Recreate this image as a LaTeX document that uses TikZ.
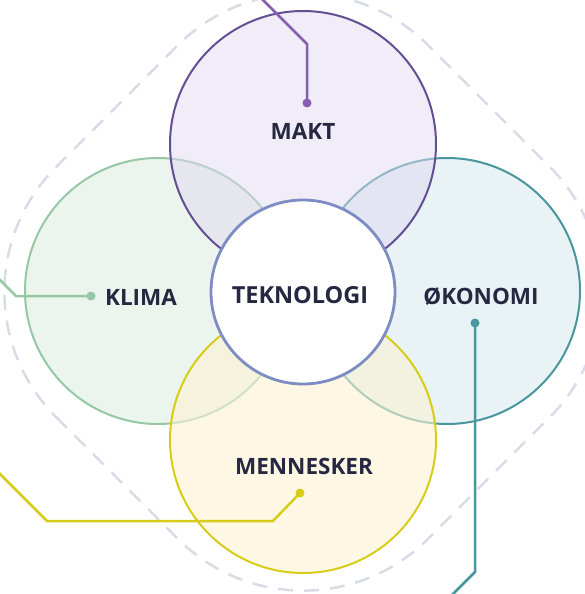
\documentclass[tikz,border=0pt]{standalone}
\usepackage{fontspec}
\setmainfont{Open Sans}
\usetikzlibrary{calc}
\definecolor{txt}{RGB}{38,40,66}
\definecolor{maktS}{RGB}{100,78,148}
\definecolor{maktL}{RGB}{135,95,175}
\definecolor{maktF}{RGB}{225,217,241}
\definecolor{klimaS}{RGB}{150,200,165}
\definecolor{klimaF}{RGB}{236,244,238}
\definecolor{okoS}{RGB}{72,150,158}
\definecolor{okoF}{RGB}{233,243,246}
\definecolor{menS}{RGB}{215,205,25}
\definecolor{menF}{RGB}{251,242,210}
\definecolor{tekS}{RGB}{125,140,195}
\definecolor{dashc}{RGB}{216,220,230}
\tikzset{
  lobe/.style={circle, minimum size=266pt, inner sep=0pt, line width=2pt},
  label/.style={font=\bfseries\fontsize{22.5}{27}\selectfont, text=txt, inner sep=0pt},
  conn/.style={line width=2.5pt, line join=miter},
  dot/.style={circle, minimum size=9pt, inner sep=0pt},
}
\begin{document}
\begin{tikzpicture}[x=1pt,y=-1pt]
\useasboundingbox (0,0) rectangle (585,594);
\clip (0,0) rectangle (585,594);
\coordinate (C) at (303,292);
% dashed rounded diamond
\draw[dashc, line width=2.5pt, dash pattern=on 15pt off 11pt, rotate around={45:(C)}, rounded corners=177pt]
  ($(C)+(-263,-263)$) rectangle ($(C)+(263,263)$);
% lobes
\node[lobe, draw=klimaS, fill=klimaF] (klima) at (158,291) {};
\node[lobe, draw=okoS, fill=okoF] (oko) at (447,291) {};
\node[lobe, draw=maktS, fill=maktF, fill opacity=0.5] (makt) at (303,144) {};
\node[lobe, draw=menS, fill=menF, fill opacity=0.6] (men) at (303,440) {};
% centre
\node[circle, minimum size=184pt, inner sep=0pt, draw=tekS, line width=2.8pt, fill=white] (tek) at (303,292) {};
% labels
\node[font=\bfseries\fontsize{23.5}{28}\selectfont, text=txt, inner sep=0pt] (tekL) at (300,295) {TEKNOLOGI};
\node[label] (maktL) at (303,131) {MAKT};
\node[label] (klimaL) at (141,297) {KLIMA};
\node[label] (okoL) at (481,297) {ØKONOMI};
\node[label] (menL) at (304,466) {MENNESKER};
% connectors
\node[dot, fill=maktL] (maktD) at (307,103) {};
\coordinate (m1) at (307,44);
\coordinate (m2) at (258,-5);
\draw[conn, maktL] (maktD.center) -- (m1) -- (m2);
\node[dot, fill=klimaS] (klimaD) at (91,296) {};
\coordinate (k1) at (16,296);
\coordinate (k2) at (-5,275);
\draw[conn, klimaS] (klimaD.center) -- (k1) -- (k2);
\node[dot, fill=okoS] (okoD) at (475,323) {};
\coordinate (o1) at (475,572);
\coordinate (o2) at (448,599);
\draw[conn, okoS] (okoD.center) -- (o1) -- (o2);
\node[dot, fill=menS] (menD) at (300,493) {};
\coordinate (n1) at (273,521);
\coordinate (n2) at (47,521);
\coordinate (n3) at (-5,469);
\draw[conn, menS] (menD.center) -- (n1) -- (n2) -- (n3);
\end{tikzpicture}
\end{document}
